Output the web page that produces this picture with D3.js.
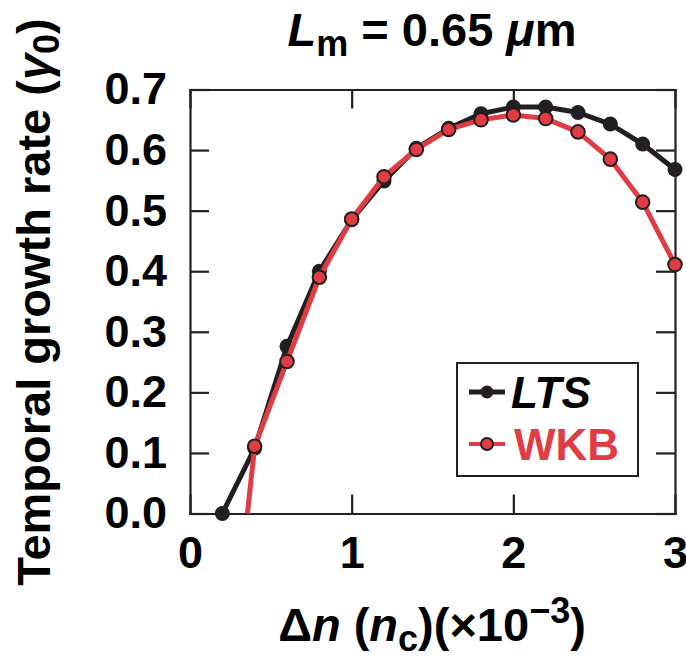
<!DOCTYPE html>
<html>
<head>
<meta charset="utf-8">
<script src="https://cdn.jsdelivr.net/npm/d3@7"></script>
<style>
  body { margin: 0; background: #fff; }
  svg text { font-family: "Liberation Sans", Arial, Helvetica, sans-serif; font-weight: bold; fill: #000; }
</style>
</head>
<body>
<svg id="chart" width="686" height="661"></svg>
<script>
// delta n (x1e-3 n_c)
var dnValues = [0.2, 0.4, 0.6, 0.8, 1.0, 1.2, 1.4, 1.6, 1.8, 2.0, 2.2, 2.4, 2.6, 2.8, 3.0];
var ltsValues = [0.0, 0.108, 0.276, 0.40, 0.485, 0.549, 0.603, 0.636, 0.660, 0.671, 0.671, 0.662, 0.643, 0.610, 0.568];
var wkbX = [0.4, 0.6, 0.8, 1.0, 1.2, 1.4, 1.6, 1.8, 2.0, 2.2, 2.4, 2.6, 2.8, 3.0];
var wkbValues = [0.111, 0.251, 0.390, 0.486, 0.556, 0.601, 0.634, 0.650, 0.658, 0.652, 0.630, 0.585, 0.514, 0.411];
var wkbCutoff = 0.355; // where the WKB curve meets zero
var xTicks = [0, 1, 2, 3];
var yTicks = [0, 0.1, 0.2, 0.3, 0.4, 0.5, 0.6, 0.7];

var ink = "#231f20", red = "#e13c44";
var svg = d3.select("#chart");

var x = d3.scaleLinear().domain([0, 3]).range([190, 675]);
var y = d3.scaleLinear().domain([0, 0.7]).range([513.5, 89.5]);

function styleAxis(g) {
    g.select(".domain").attr("stroke", ink).attr("stroke-width", 2.2);
    g.selectAll(".tick line").attr("stroke", ink).attr("stroke-width", 2.2);
    g.selectAll(".tick text").style("font-size", "45px").attr("fill", "#000");
}

svg.append("g").attr("transform", "translate(0,513.5)")
    .call(d3.axisBottom(x).tickValues(xTicks).tickFormat(d3.format("d")).tickSizeInner(-19).tickSizeOuter(0).tickPadding(23))
    .call(styleAxis);
svg.append("g").attr("transform", "translate(0,89.5)")
    .call(d3.axisTop(x).tickValues(xTicks).tickFormat("").tickSizeInner(-19).tickSizeOuter(0))
    .call(styleAxis);
svg.append("g").attr("transform", "translate(190,0)")
    .call(d3.axisLeft(y).tickValues(yTicks).tickFormat(d3.format(".1f")).tickSizeInner(-19).tickSizeOuter(0).tickPadding(23))
    .call(styleAxis);
svg.append("g").attr("transform", "translate(675,0)")
    .call(d3.axisRight(y).tickValues(yTicks).tickFormat("").tickSizeInner(-19).tickSizeOuter(0))
    .call(styleAxis);
svg.selectAll(".domain").attr("stroke-linecap", "square");

var line = d3.line().x(function(d) { return x(d[0]); }).y(function(d) { return y(d[1]); });

var lts = dnValues.map(function(d, i) { return [d, ltsValues[i]]; });
var wkb = [[wkbCutoff, 0]].concat(wkbX.map(function(d, i) { return [d, wkbValues[i]]; }));

svg.append("path").datum(lts)
    .attr("d", line).attr("fill", "none").attr("stroke", ink).attr("stroke-width", 5).attr("stroke-linejoin", "round");
svg.selectAll(".lts").data(lts).enter().append("circle")
    .attr("class", "lts").attr("cx", function(d) { return x(d[0]); }).attr("cy", function(d) { return y(d[1]); })
    .attr("r", 7.5).attr("fill", ink);

svg.append("path").datum(wkb)
    .attr("d", line).attr("fill", "none").attr("stroke", red).attr("stroke-width", 5).attr("stroke-linejoin", "round");
svg.selectAll(".wkb").data(wkb.slice(1)).enter().append("circle")
    .attr("class", "wkb").attr("cx", function(d) { return x(d[0]); }).attr("cy", function(d) { return y(d[1]); })
    .attr("r", 6.8).attr("fill", red).attr("stroke", ink).attr("stroke-width", 2);

// legend
var leg = svg.append("g");
leg.append("rect").attr("x", 457).attr("y", 363).attr("width", 181).attr("height", 113)
    .attr("fill", "#fff").attr("stroke", ink).attr("stroke-width", 2);
leg.append("line").attr("x1", 469).attr("x2", 505).attr("y1", 392).attr("y2", 392).attr("stroke", ink).attr("stroke-width", 5);
leg.append("circle").attr("cx", 487).attr("cy", 392).attr("r", 6.5).attr("fill", ink);
leg.append("text").attr("x", 511).attr("y", 408).style("font-size", "44px").style("font-style", "italic").text("LTS");
leg.append("line").attr("x1", 469).attr("x2", 505).attr("y1", 444).attr("y2", 444).attr("stroke", red).attr("stroke-width", 4);
leg.append("circle").attr("cx", 487).attr("cy", 444).attr("r", 6).attr("fill", red).attr("stroke", ink).attr("stroke-width", 2);
leg.append("text").attr("x", 514).attr("y", 460).style("font-size", "44px").style("fill", red).text("WKB");

// title
var title = svg.append("text").attr("x", 432).attr("y", 46).attr("text-anchor", "middle").style("font-size", "47px");
title.append("tspan").style("font-style", "italic").text("L");
title.append("tspan").attr("dy", 10).style("font-size", "36px").text("m");
title.append("tspan").attr("dy", -10).text(" = 0.65 ");
title.append("tspan").style("font-style", "italic").text("\u03bc");
title.append("tspan").text("m");

// x axis title
var xt = svg.append("text").attr("x", 432).attr("y", 641).attr("text-anchor", "middle").style("font-size", "47px");
xt.append("tspan").text("\u0394");
xt.append("tspan").style("font-style", "italic").text("n");
xt.append("tspan").text(" (");
xt.append("tspan").style("font-style", "italic").text("n");
xt.append("tspan").attr("dy", 10).style("font-size", "36px").text("c");
xt.append("tspan").attr("dy", -10).text(")(\u00d710");
xt.append("tspan").attr("dy", -18).style("font-size", "36px").text("\u22123");
xt.append("tspan").attr("dy", 18).text(")");

// y axis title
var yt = svg.append("text").attr("transform", "translate(50,302) rotate(-90)").attr("text-anchor", "middle").style("font-size", "47px");
yt.append("tspan").text("Temporal growth rate (");
yt.append("tspan").style("font-style", "italic").text("\u03b3");
yt.append("tspan").attr("dy", 9).style("font-size", "36px").text("0");
yt.append("tspan").attr("dy", -9).text(")");
</script>
</body>
</html>
